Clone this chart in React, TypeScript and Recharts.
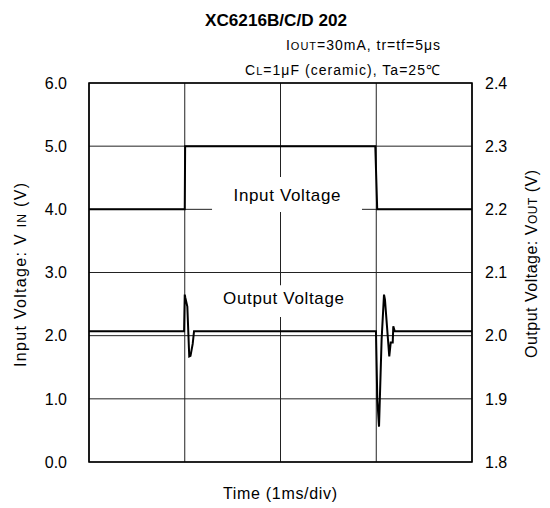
import React from 'react';
import { LineChart, Line, XAxis, YAxis, CartesianGrid, ReferenceArea } from 'recharts';

// time axis in divisions (1ms/div)
const timeTicks = [0, 1, 2, 3, 4];
const vinTicks = [0, 1, 2, 3, 4, 5, 6];
const voutTicks = [1.8, 1.9, 2.0, 2.1, 2.2, 2.3, 2.4];

const vinTime = [0, 1.0, 1.004, 2.99, 3.01, 4];
const vinValues = [4, 4, 5, 5, 4, 4];

const voutTime = [
  0, 0.993, 1.0, 1.006, 1.027, 1.047, 1.06, 1.083, 1.097,
  2.997, 3.011, 3.029, 3.056, 3.081, 3.091, 3.136, 3.151, 3.172, 3.178, 3.193, 4,
];
const voutValues = [
  2.007, 2.007, 2.065, 2.06, 2.046, 1.967, 1.968, 1.987, 2.007,
  2.007, 1.899, 1.856, 1.994, 2.065, 2.057, 1.967, 1.989, 1.989, 2.015, 2.007, 2.007,
];

const vinData = vinTime.map((t, i) => ({ t, v: vinValues[i] }));
const voutData = voutTime.map((t, i) => ({ t, v: voutValues[i] }));

const FONT = '"Liberation Sans", Arial, sans-serif';

const BoxLabel = (props: any) => {
  const { viewBox, text, dy, len } = props;
  if (!viewBox) return null;
  const cx = viewBox.x + viewBox.width / 2;
  const cy = viewBox.y + viewBox.height / 2;
  return (
    <text x={cx} y={cy + dy} textAnchor="middle" fontSize={17} fill="#000" fontFamily={FONT}
      textLength={len} lengthAdjust="spacing">
      {text}
    </text>
  );
};

// vertical grid from the time scale
const verticalGen = (props: any) => {
  const scale = props?.xAxis?.scale;
  if (!scale) return [];
  const fn = typeof scale === 'function' ? scale : scale.map ? (v: number) => scale.map(v) : null;
  if (!fn) return [];
  return timeTicks.map((t) => fn(t));
};

export default function App() {
  const fmt = (v: number) => v.toFixed(1);
  return (
    <div style={{ position: 'absolute', left: 0, top: 0, width: 550, height: 508, background: '#fff', fontFamily: FONT }}>
      <LineChart width={550} height={508} margin={{ top: 83, right: 18, bottom: 45, left: 29 }}>
        <CartesianGrid yAxisId="vin" stroke="#222" strokeWidth={1} verticalCoordinatesGenerator={verticalGen} />
        <XAxis dataKey="t" type="number" domain={[0, 4]} ticks={timeTicks}
          tick={() => <g />} axisLine={false} tickLine={false} height={1} />
        <YAxis yAxisId="vin" orientation="left" width={60} domain={[0, 6]} ticks={vinTicks}
          tickFormatter={fmt} axisLine={false} tickLine={false} tickSize={0} tickMargin={22}
          tick={{ fill: '#000', fontSize: 16, fontFamily: FONT }} />
        <YAxis yAxisId="vout" orientation="right" width={60} domain={[1.8, 2.4]} ticks={voutTicks}
          tickFormatter={fmt} axisLine={false} tickLine={false} tickSize={0} tickMargin={13}
          tick={{ fill: '#000', fontSize: 16, fontFamily: FONT, textAnchor: 'start' }} />
        <ReferenceArea yAxisId="vin" x1={1.285} x2={2.851} y1={3.958} y2={4.512}
          fill="#fff" fillOpacity={1} stroke="none"
          label={<BoxLabel text="Input Voltage" dy={7} len={107} />} />
        <ReferenceArea yAxisId="vin" x1={1.368} x2={2.695} y1={2.296} y2={2.8}
          fill="#fff" fillOpacity={1} stroke="none"
          label={<BoxLabel text="Output Voltage" dy={3} len={121} />} />
        <ReferenceArea yAxisId="vin" x1={0} x2={4} y1={0} y2={6}
          fill="none" fillOpacity={0} stroke="#000" strokeWidth={1.6} />
        <Line yAxisId="vin" data={vinData} dataKey="v" type="linear" stroke="#000" strokeWidth={2}
          dot={false} activeDot={false} isAnimationActive={false} />
        <Line yAxisId="vout" data={voutData} dataKey="v" type="linear" stroke="#000" strokeWidth={2}
          dot={false} activeDot={false} isAnimationActive={false} />
      </LineChart>
      <svg width={550} height={508} style={{ position: 'absolute', left: 0, top: 0, pointerEvents: 'none' }}
        fontFamily={FONT} fill="#000">
        <text x={276} y={26} textAnchor="middle" fontSize={17} fontWeight="bold" textLength={142} lengthAdjust="spacingAndGlyphs">
          XC6216B/C/D 202
        </text>
        <text x={440} y={50} textAnchor="end" fontSize={14} textLength={154} lengthAdjust="spacing">
          I<tspan fontSize={11}>OUT</tspan>=30mA, tr=tf=5μs
        </text>
        <text x={440} y={75} textAnchor="end" fontSize={14} textLength={195} lengthAdjust="spacing">
          C<tspan fontSize={11}>L</tspan>=1μF (ceramic), Ta=25℃
        </text>
        <text x={26} y={275} transform="rotate(-90, 26, 275)" textAnchor="middle" fontSize={16}
          textLength={184} lengthAdjust="spacing">
          Input Voltage: V <tspan fontSize={12}>IN</tspan> (V)
        </text>
        <text x={537} y={264} transform="rotate(-90, 537, 264)" textAnchor="middle" fontSize={16}
          textLength={188} lengthAdjust="spacing">
          Output Voltage: V<tspan fontSize={12}>OUT</tspan> (V)
        </text>
        <text x={280} y={499} textAnchor="middle" fontSize={16} textLength={114} lengthAdjust="spacing">
          Time (1ms/div)
        </text>
      </svg>
    </div>
  );
}
